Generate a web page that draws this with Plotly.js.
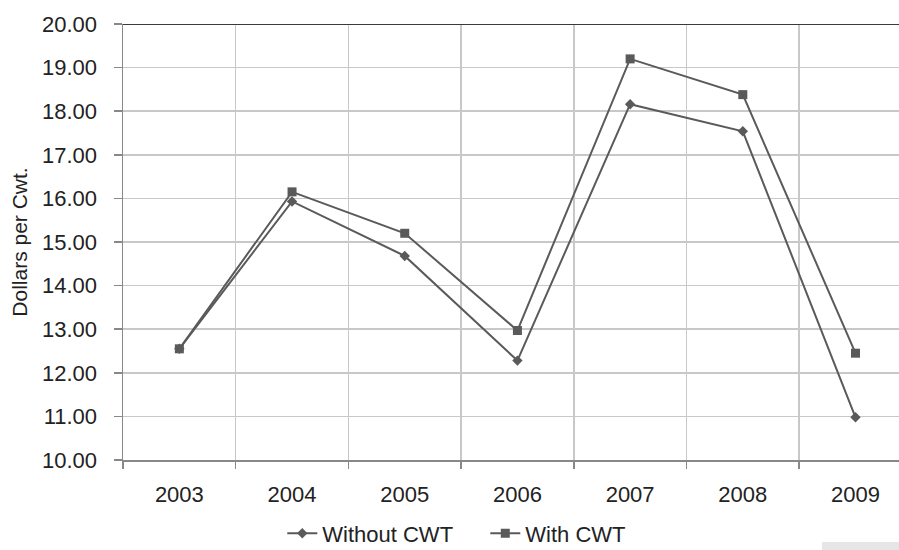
<!DOCTYPE html>
<html>
<head>
<meta charset="utf-8">
<script src="https://cdn.plot.ly/plotly-3.0.1.min.js"></script>
<style>html,body{margin:0;padding:0;background:#fff;}#chart{width:899px;height:550px;}</style>
</head>
<body>
<div id="chart"></div>
<script>
const years = ["2003","2004","2005","2006","2007","2008","2009"];
const withoutCWT = [12.55, 15.93, 14.68, 12.28, 18.16, 17.54, 10.98];
const withCWT = [12.55, 16.15, 15.20, 12.97, 19.20, 18.38, 12.45];
const seriesNames = ["Without CWT", "With CWT"];

const lineColor = "#5a5a5a";
const traces = [
  {x: years, y: withoutCWT, name: seriesNames[0], type: "scatter", mode: "lines+markers",
   line: {color: lineColor, width: 2}, marker: {symbol: "diamond", size: 8, color: lineColor}},
  {x: years, y: withCWT, name: seriesNames[1], type: "scatter", mode: "lines+markers",
   line: {color: lineColor, width: 2}, marker: {symbol: "square", size: 9, color: lineColor}}
];

const layout = {
  width: 899, height: 550,
  margin: {l: 123, r: 0, t: 24, b: 90},
  paper_bgcolor: "#fff", plot_bgcolor: "#fff",
  font: {family: "Liberation Sans, Arial, sans-serif", color: "#222"},
  showlegend: true,
  legend: {orientation: "h", xref: "container", yref: "container",
           x: 0.314, xanchor: "left", y: 0.03, yanchor: "middle",
           font: {size: 22, color: "#222"}, itemwidth: 30, tracegroupgap: 0,
           entrywidth: 158, entrywidthmode: "pixels",
           bgcolor: "rgba(0,0,0,0)"},
  xaxis: {type: "category", range: [-0.5, 6.386], tickson: "boundaries",
          showgrid: true, gridcolor: "#c8c8c8", gridwidth: 1.5,
          ticks: "outside", ticklen: 7, tickcolor: "#888", tickwidth: 1.5,
          showline: true, linecolor: "#888", linewidth: 1.5, automargin: false,
          ticklabelstandoff: 14,
          tickfont: {size: 22, color: "#222"}, zeroline: false, fixedrange: true},
  yaxis: {range: [10, 20], dtick: 1, tick0: 10, tickformat: ".2f",
          showgrid: true, gridcolor: "#c8c8c8", gridwidth: 1.5,
          ticks: "outside", ticklen: 8, tickcolor: "#888", tickwidth: 1.5,
          showline: true, linecolor: "#888", linewidth: 1.5, automargin: false,
          ticklabelstandoff: 12,
          tickfont: {size: 22, color: "#222"}, zeroline: false,
          title: {text: "Dollars per Cwt.", font: {size: 21, color: "#222"}, standoff: 8}},
  shapes: [
    {type: "line", xref: "paper", yref: "y", x0: 0, x1: 1, y0: 20, y1: 20,
     line: {color: "#3a3a3a", width: 2}},
    {type: "rect", xref: "paper", yref: "paper", x0: (822-123)/776, x1: 1.001,
     y0: -(542-460)/436, y1: -(552-460)/436, fillcolor: "#e6e6e6", line: {width: 0}}
  ]
};

Plotly.newPlot("chart", traces, layout, {displayModeBar: false, staticPlot: true});
</script>
</body>
</html>
